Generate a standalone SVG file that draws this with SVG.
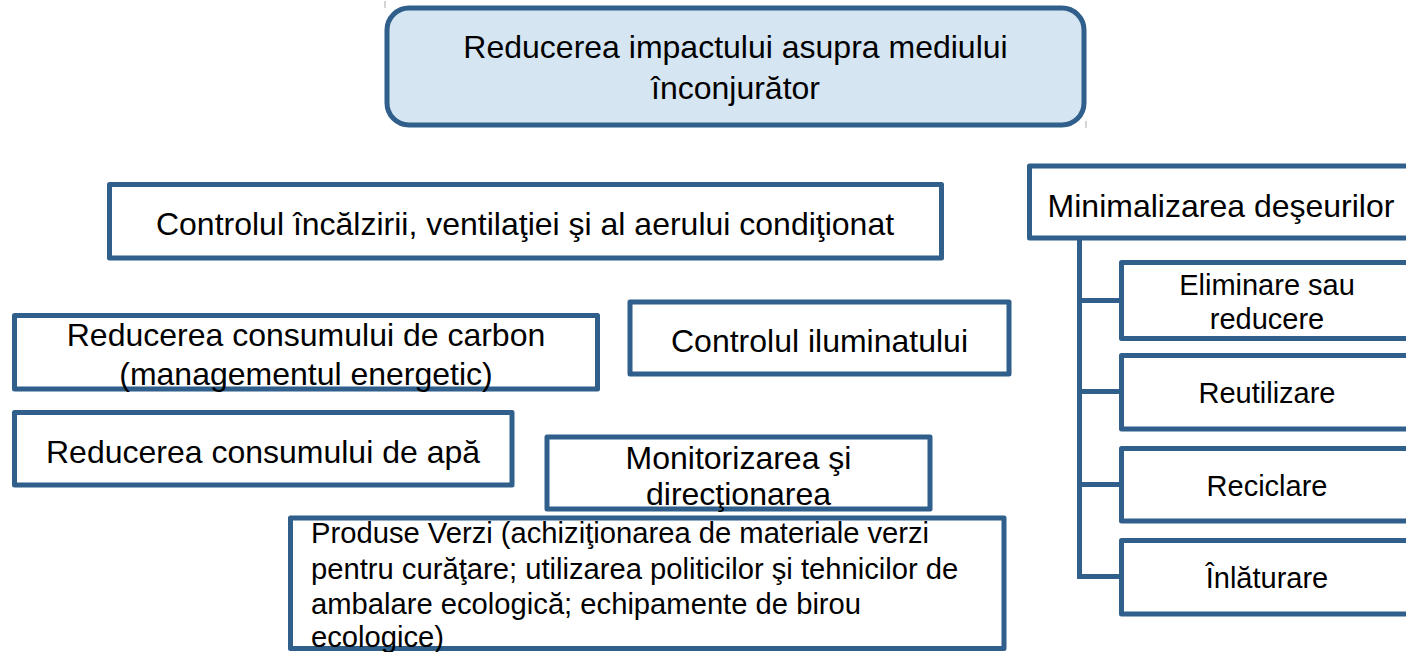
<svg xmlns="http://www.w3.org/2000/svg" width="1406" height="652" viewBox="0 0 1406 652">
<style>
.box{fill:#ffffff;stroke:#2F5F8A;stroke-width:5;stroke-linejoin:round}
.root{fill:#D6E5F2;stroke:#2F5F8A;stroke-width:5}
.conn{fill:none;stroke:#2F5F8A;stroke-width:5}
text{font-family:"Liberation Sans",Arial,sans-serif;fill:#000000}
.t32{font-size:32px}
.t29{font-size:29px}
.t30{font-size:29.2px}
.c{text-anchor:middle}
.tick{stroke:#aaaaaa;stroke-width:1}
</style>
<rect width="1406" height="652" fill="#ffffff"/>
<line class="tick" x1="385" y1="1" x2="385" y2="8"/>
<line class="tick" x1="1086" y1="121" x2="1086" y2="128"/>
<g id="connectors">
<path class="conn" d="M1079.5 238 V576.5 H1121.5"/>
<path class="conn" d="M1079.5 300.5 H1121.5"/>
<path class="conn" d="M1079.5 391.5 H1121.5"/>
<path class="conn" d="M1079.5 484.5 H1121.5"/>
</g>
<g id="root">
<rect class="root" x="387" y="8" width="697" height="117" rx="22" ry="22"/>
<text class="t32 c" x="735.5" y="58">Reducerea impactului asupra mediului</text>
<text class="t32 c" x="735.5" y="99">înconjurător</text>
</g>
<g id="hvac">
<rect class="box" x="109.5" y="184.5" width="832" height="73.5"/>
<text class="t32 c" x="525" y="234.5">Controlul încălzirii, ventilaţiei şi al aerului condiţionat</text>
</g>
<g id="waste">
<rect class="box" x="1029.5" y="166" width="400" height="72"/>
<text class="t32 c" x="1221" y="217">Minimalizarea deşeurilor</text>
</g>
<g id="carbon">
<rect class="box" x="14.5" y="315.5" width="583" height="73.5"/>
<text class="t32 c" x="306" y="346">Reducerea consumului de carbon</text>
<text class="t32 c" x="306" y="385">(managementul energetic)</text>
</g>
<g id="lighting">
<rect class="box" x="630" y="302" width="379" height="72"/>
<text class="t32 c" x="819.5" y="352">Controlul iluminatului</text>
</g>
<g id="water">
<rect class="box" x="14.5" y="412.5" width="497.5" height="72.5"/>
<text class="t32 c" x="263" y="463">Reducerea consumului de apă</text>
</g>
<g id="monitoring">
<rect class="box" x="547" y="437" width="383" height="72"/>
<text class="t32 c" x="738.5" y="469">Monitorizarea şi</text>
<text class="t32 c" x="738.5" y="505">direcţionarea</text>
</g>
<g id="green">
<rect class="box" x="290.5" y="518" width="713.5" height="130.5"/>
<text class="t30" x="311" y="543">Produse Verzi (achiziţionarea de materiale verzi</text>
<text class="t30" x="311" y="579">pentru curăţare; utilizarea politicilor şi tehnicilor de</text>
<text class="t30" x="311" y="614">ambalare ecologică; echipamente de birou</text>
<text class="t30" x="311" y="647">ecologice)</text>
</g>
<g id="eliminare">
<rect class="box" x="1121.5" y="262.5" width="310" height="76"/>
<text class="t29 c" x="1267" y="295">Eliminare sau</text>
<text class="t29 c" x="1267" y="329">reducere</text>
</g>
<g id="reutilizare">
<rect class="box" x="1121.5" y="355.5" width="310" height="73.5"/>
<text class="t29 c" x="1267" y="403">Reutilizare</text>
</g>
<g id="reciclare">
<rect class="box" x="1121.5" y="448.5" width="310" height="72.5"/>
<text class="t29 c" x="1267" y="496">Reciclare</text>
</g>
<g id="inlaturare">
<rect class="box" x="1121.5" y="540.5" width="310" height="73.5"/>
<text class="t29 c" x="1267" y="588">Înlăturare</text>
</g>
</svg>
